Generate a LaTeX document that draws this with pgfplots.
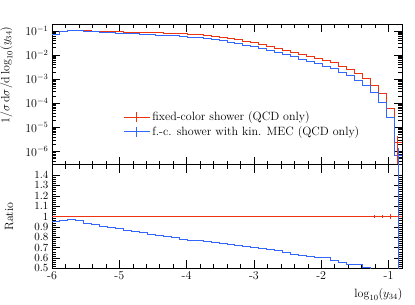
\documentclass[border=0pt]{standalone}
\usepackage{pgfplots}
\usepackage{pgfplotstable}
\pgfplotsset{compat=1.18}
\definecolor{rivred}{HTML}{EE3311}
\definecolor{rivblue}{HTML}{3366FF}
\pgfplotstableread{
x red blue ratio
-6.000 0.0724 0.0688 0.950
-5.882 0.0977 0.0944 0.966
-5.764 0.1023 0.0995 0.973
-5.645 0.1023 0.0985 0.963
-5.527 0.1000 0.0936 0.936
-5.409 0.0977 0.0899 0.920
-5.291 0.0955 0.0863 0.904
-5.173 0.0933 0.0831 0.891
-5.055 0.0912 0.0803 0.881
-4.936 0.0891 0.0773 0.868
-4.818 0.0871 0.0745 0.855
-4.700 0.0851 0.0719 0.845
-4.582 0.0832 0.0686 0.825
-4.464 0.0813 0.0661 0.813
-4.345 0.0794 0.0638 0.803
-4.227 0.0776 0.0615 0.793
-4.109 0.0741 0.0580 0.783
-3.991 0.0708 0.0547 0.773
-3.873 0.0676 0.0516 0.764
-3.755 0.0631 0.0478 0.757
-3.636 0.0575 0.0430 0.747
-3.518 0.0525 0.0387 0.737
-3.400 0.0468 0.0341 0.728
-3.282 0.0417 0.0299 0.718
-3.164 0.0363 0.0257 0.708
-3.045 0.0316 0.0221 0.698
-2.927 0.0269 0.0185 0.689
-2.809 0.0229 0.0155 0.679
-2.691 0.0191 0.0128 0.669
-2.573 0.0158 0.0104 0.656
-2.455 0.0132 0.00840 0.636
-2.336 0.0107 0.00663 0.620
-2.218 0.00871 0.00534 0.613
-2.100 0.00708 0.00425 0.600
-1.982 0.00575 0.00347 0.603
-1.864 0.00468 0.00267 0.571
-1.745 0.00347 0.00194 0.558
-1.627 0.00251 0.00136 0.541
-1.509 0.00166 0.000893 0.538
-1.391 0.00105 0.000530 0.505
-1.273 0.000550 0.000270 0.490
-1.155 0.000245 0.000103 0.420
-1.036 0.0000631 0.0000265 0.420
-0.918 0.00000229 0.00000069 0.300
-0.800 0.00000229 0.00000069 0.300
}\histdata
\pgfplotstableread{
x y e
-2.396 1 0.001
-2.277 1 0.001
-2.159 1 0.0015
-2.041 1 0.002
-1.923 1 0.002
-1.805 1 0.003
-1.686 1 0.003
-1.568 1 0.004
-1.450 1 0.005
-1.332 1 0.007
-1.214 1 0.010
-1.095 1 0.015
-0.977 1 0.023
-0.859 1 0.8
}\rederr
\begin{document}
\begin{tikzpicture}[font=\fontsize{12}{14.4}\selectfont]
\pgfplotsset{
  every axis/.append style={
    scale only axis, width=350pt,
    xmin=-6, xmax=-0.8,
    xtick={-6,-5,-4,-3,-2,-1},
    minor x tick num=4,
    tick align=inside, xtick pos=both, ytick pos=both,
    major tick length=8pt, minor tick length=4pt,
    axis line style={line width=0.5pt},
    every tick/.style={black, line width=0.5pt},
    every minor tick/.style={black, line width=0.4pt},
    font=\fontsize{12}{14.4}\selectfont,
  },
}
% upper panel
\begin{axis}[
  name=top, at={(0pt,103.6pt)}, anchor=south west, height=140.7pt,
  ymode=log, ymin=2.82e-7, ymax=0.1905,
  ytick={1e-7,1e-6,1e-5,1e-4,1e-3,1e-2,1e-1,1},
  xticklabels={},
  ylabel={$1/\sigma\,\mathrm{d}\sigma/\mathrm{d}\log_{10}(y_{34})$},
  ylabel style={at={([xshift=-36pt,yshift=1pt]rel axis cs:0,1)}, anchor=south east},
  legend style={at={(rel axis cs:0.195,0.405)}, anchor=north west, draw=none, fill=none,
    cells={anchor=west}, row sep=0pt},
]
\addplot[rivred, line width=0.9pt, const plot,
  legend image code/.code={\draw[rivred,line width=0.9pt] (0pt,0pt) -- (26pt,0pt); \draw[rivred,line width=0.9pt] (13pt,-5pt) -- (13pt,5pt);}]
  table[x=x, y=red] {\histdata};
\addlegendentry{fixed-color shower (QCD only)}
\addplot[rivblue, line width=0.9pt, const plot,
  legend image code/.code={\draw[rivblue,line width=0.9pt] (0pt,0pt) -- (26pt,0pt); \draw[rivblue,line width=0.9pt] (13pt,-5pt) -- (13pt,5pt);}]
  table[x=x, y=blue] {\histdata};
\addlegendentry{f.-c. shower with kin. MEC (QCD only)}
\addplot[rivred, forget plot, mark=none,
  error bars/.cd, y dir=both, y explicit, error mark=none,
  error bar style={rivred, line width=0.9pt}]
  coordinates {(-0.862,2.29e-6) +- (0,2.0e-6)};
\addplot[rivblue, forget plot, mark=none,
  error bars/.cd, y dir=both, y explicit, error mark=none,
  error bar style={rivblue, line width=0.9pt}]
  coordinates {(-0.852,6.9e-7) +- (0,6.85e-7)};
\end{axis}
% ratio panel
\begin{axis}[
  name=bot, at={(0pt,0pt)}, anchor=south west, height=103.6pt,
  ymin=0.5, ymax=1.5,
  ytick={0.5,0.6,0.7,0.8,0.9,1,1.1,1.2,1.3,1.4},
  minor y tick num=4,
  yticklabel style={font=\fontsize{11}{11}\selectfont, inner ysep=0pt},
  xticklabels={-6,-5,-4,-3,-2,-1},
  ylabel={Ratio},
  ylabel style={at={([xshift=-35pt]rel axis cs:0,0.5)}, anchor=south},
  xlabel={$\log_{10}(y_{34})$},
  xlabel style={at={([xshift=4pt,yshift=-17pt]rel axis cs:1,0)}, anchor=north east},
]
\addplot[rivred, line width=0.9pt, mark=none] coordinates {(-6,1) (-0.8,1)};
\addplot[rivred, line width=0.9pt, mark=none,
  error bars/.cd, y dir=both, y explicit, error mark=none,
  error bar style={rivred, line width=0.9pt}]
  table[x=x, y=y, y error=e] {\rederr};
\addplot[rivblue, line width=0.9pt, const plot, mark=none] table[x=x, y=ratio] {\histdata};
\addplot[rivblue, mark=none,
  error bars/.cd, y dir=both, y explicit, error mark=none,
  error bar style={rivblue, line width=0.9pt}]
  coordinates {(-0.852,0.3) +- (0,1.5)};
\end{axis}
\pgfresetboundingbox
\path[use as bounding box] (-52pt,-36.7pt) rectangle (363pt,268.3pt);
\end{tikzpicture}
\end{document}
